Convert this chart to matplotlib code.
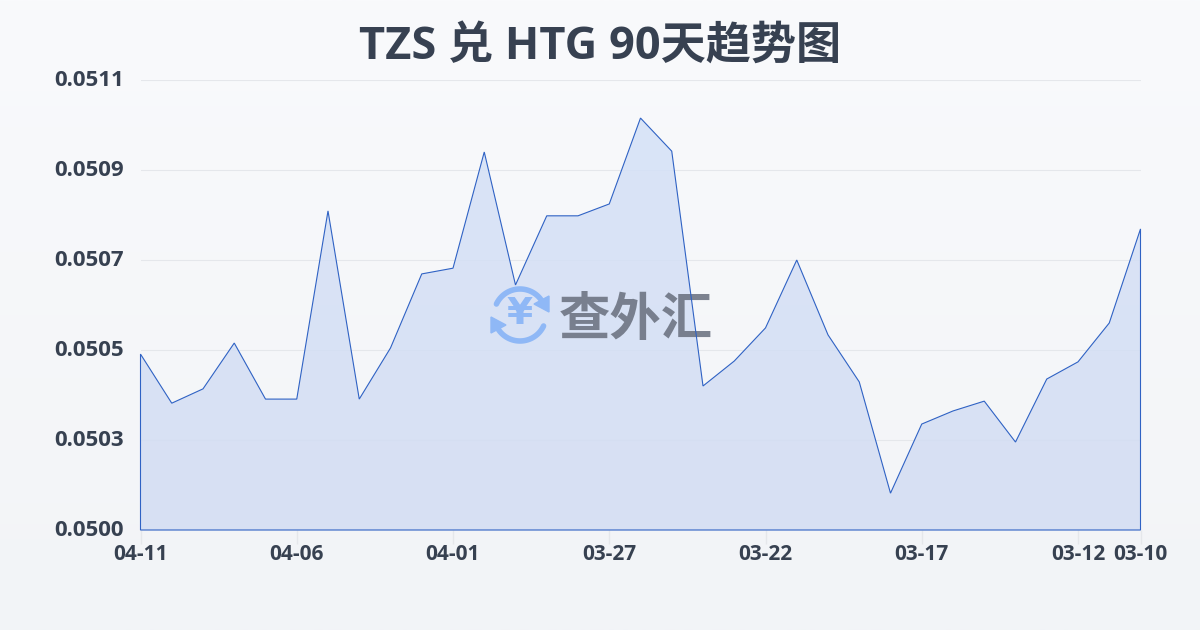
import numpy as np
import matplotlib
matplotlib.use("Agg")
import matplotlib.pyplot as plt
from matplotlib.patches import Polygon
from matplotlib.colors import LinearSegmentedColormap
from matplotlib.transforms import ScaledTranslation

plt.rcParams['font.family'] = ['Open Sans', 'Noto Sans CJK SC', 'DejaVu Sans']

TITLE = "TZS 兑 HTG 90天趋势图"
dates = ["04-11", "04-06", "04-01", "03-27", "03-22", "03-17", "03-12", "03-10"]
date_index = [0, 5, 10, 15, 20, 25, 30, 32]
rates = [0.05043, 0.05031, 0.050345, 0.050457, 0.05032, 0.05032, 0.05078, 0.05032,
         0.050445, 0.050626, 0.05064, 0.050924, 0.050599, 0.050768, 0.050768, 0.050797,
         0.051007, 0.050926, 0.050352, 0.050413, 0.050494, 0.05066, 0.050477, 0.050362,
         0.05009, 0.050259, 0.050291, 0.050315, 0.050215, 0.050369, 0.050411, 0.050506,
         0.050736]
y_ticks = [0.0500, 0.05022, 0.05044, 0.05066, 0.05088, 0.0511]
y_labels = ["0.0500", "0.0503", "0.0505", "0.0507", "0.0509", "0.0511"]
y_min, y_max = 0.0500, 0.0511

TEXT = "#374151"
LINE = "#2f62c4"
GRID = "#e5e7eb"

fig = plt.figure(figsize=(12, 6.3), dpi=100)

# page background gradient
bg = fig.add_axes([0, 0, 1, 1], zorder=0)
bg.axis("off")
cmap = LinearSegmentedColormap.from_list("bg", ["#f9fafc", "#f2f4f7"])
bg.imshow(np.linspace(0, 1, 256)[:, None], cmap=cmap, aspect="auto", extent=[0, 1, 0, 1])

ax = fig.add_axes([140.5 / 1200, 100 / 630, 1000 / 1200, 450 / 630], zorder=1)
ax.patch.set_alpha(0)
x = np.arange(len(rates))
ax.set_xlim(0, len(rates) - 1)
ax.set_ylim(y_min, y_max)

ax.set_yticks(y_ticks)
ax.set_yticklabels(y_labels, fontsize=16, fontweight="bold", color=TEXT)
ax.set_xticks(date_index)
ax.set_xticklabels(dates, fontsize=15, fontweight="bold", color=TEXT)
ax.tick_params(axis="y", length=0, pad=12)
ax.tick_params(axis="x", length=10, width=1, color=GRID, pad=0)
up = ScaledTranslation(0, 2 / 100, fig.dpi_scale_trans)
for lab in ax.get_yticklabels():
    lab.set_transform(lab.get_transform() + up)
for s in ax.spines.values():
    s.set_visible(False)
ax.grid(axis="y", color=GRID, lw=0.8, zorder=1)
ax.set_axisbelow(True)

# area with a soft vertical gradient
verts = np.column_stack([np.r_[x[0], x, x[-1]], np.r_[y_min, rates, y_min]])
poly = Polygon(verts, closed=True, facecolor="none", edgecolor="none", transform=ax.transData)
ax.add_patch(poly)
fill_cmap = LinearSegmentedColormap.from_list("fill", ["#d5e2f8", "#d3ddf3"])
im = ax.imshow(np.linspace(0, 1, 256)[:, None], cmap=fill_cmap, aspect="auto",
               extent=[0, len(rates) - 1, y_min, y_max], zorder=1.5, alpha=0.85)
im.set_clip_path(poly)
ax.set_xlim(0, len(rates) - 1)
ax.set_ylim(y_min, y_max)

# watermark, in pixel coordinates of the figure
wm = fig.add_axes([0, 0, 1, 1], zorder=2)
wm.set_xlim(0, 1200)
wm.set_ylim(630, 0)
wm.axis("off")
wm.patch.set_alpha(0)
BLUE = "#8fb8f6"
cx, cy, r = 520, 315, 26
theta = np.radians(np.linspace(-155, -25, 40))
wm.plot(cx + r * np.cos(theta), cy + r * np.sin(theta), color=BLUE, lw=4, solid_capstyle="round")
wm.plot(cx - r * np.cos(theta), cy - r * np.sin(theta), color=BLUE, lw=4, solid_capstyle="round")
wm.add_patch(Polygon([[549, 296], [549, 312], [534, 304]], closed=True, color=BLUE))
wm.add_patch(Polygon([[491, 317], [491, 333], [506, 325]], closed=True, color=BLUE))
wm.text(cx, cy - 1, "¥", fontsize=27, fontweight="bold", color=BLUE, ha="center", va="center",
        family=["DejaVu Sans"])
wm.text(636, 319, "查外汇", fontsize=37, fontweight="bold", color="#6b7280", alpha=0.88,
        ha="center", va="center", family=["Noto Sans CJK SC"])

# line on top of the watermark
top = fig.add_axes(ax.get_position(), zorder=3)
top.set_xlim(ax.get_xlim())
top.set_ylim(ax.get_ylim())
top.axis("off")
top.patch.set_alpha(0)
top.add_patch(Polygon(verts, closed=True, facecolor="none", edgecolor=LINE, lw=0.8,
                      joinstyle="miter", clip_on=False))

fig.text(600 / 1200, 1 - 47 / 630, TITLE, fontsize=32.5, fontweight="bold", color=TEXT,
         ha="center", va="center")

fig.savefig("out.png", dpi=100)
